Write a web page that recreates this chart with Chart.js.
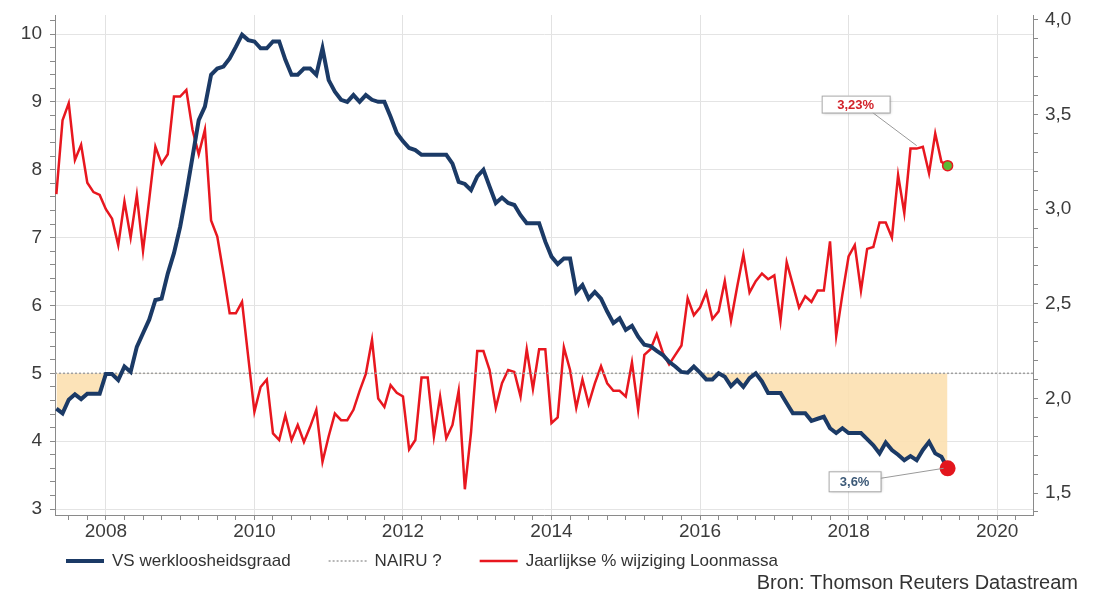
<!DOCTYPE html>
<html>
<head>
<meta charset="utf-8">
<script src="https://cdn.jsdelivr.net/npm/chart.js@4.4.1/dist/chart.umd.min.js"></script>
<style>
  html, body { margin: 0; padding: 0; background: #fff; }
  #wrap { width: 1093px; height: 593px; position: relative; }
</style>
</head>
<body>
<div id="wrap"><canvas id="chart"></canvas></div>
<script>
// monthly data, May 2007 - May 2019
const startYear = 2007;
const startMonth = 5;

// US unemployment rate (left axis, %)
const unemployment = [
  4.48, 4.41, 4.61, 4.69, 4.62, 4.70, 4.70, 4.70, 4.99, 4.99,
  4.90, 5.10, 5.02, 5.39, 5.59, 5.79, 6.08, 6.10, 6.47, 6.77,
  7.16, 7.65, 8.19, 8.73, 8.93, 9.40, 9.49, 9.52, 9.64, 9.81,
  9.99, 9.91, 9.89, 9.79, 9.79, 9.89, 9.89, 9.62, 9.40, 9.40,
  9.49, 9.49, 9.40, 9.79, 9.32, 9.15, 9.03, 9.00, 9.10, 9.00,
  9.10, 9.03, 9.00, 9.00, 8.78, 8.54, 8.42, 8.32, 8.29, 8.22,
  8.22, 8.22, 8.22, 8.22, 8.09, 7.82, 7.79, 7.70, 7.90, 8.00,
  7.75, 7.51, 7.59, 7.51, 7.48, 7.33, 7.21, 7.21, 7.21, 6.94,
  6.72, 6.61, 6.69, 6.69, 6.20, 6.30, 6.10, 6.20, 6.10, 5.91,
  5.74, 5.81, 5.64, 5.70, 5.54, 5.42, 5.40, 5.33, 5.27, 5.17,
  5.10, 5.02, 5.01, 5.10, 5.01, 4.91, 4.91, 5.00, 4.95, 4.81,
  4.90, 4.80, 4.93, 5.00, 4.88, 4.71, 4.71, 4.71, 4.56, 4.41,
  4.41, 4.41, 4.30, 4.33, 4.36, 4.19, 4.12, 4.19, 4.12, 4.12,
  4.12, 4.03, 3.94, 3.82, 3.98, 3.87, 3.80, 3.72, 3.78, 3.72,
  3.87, 3.99, 3.82, 3.77, 3.60
];

// yearly % change payroll (right axis)
const payrollGrowth = [
  3.08, 3.47, 3.56, 3.26, 3.34, 3.14, 3.09, 3.075, 3.00, 2.95,
  2.81, 3.04, 2.85, 3.075, 2.78, 3.05, 3.33, 3.24, 3.29, 3.595,
  3.595, 3.63, 3.42, 3.29, 3.42, 2.94, 2.855, 2.66, 2.45, 2.45,
  2.51, 2.22, 1.93, 2.06, 2.10, 1.815, 1.78, 1.91, 1.78, 1.86,
  1.77, 1.85, 1.94, 1.665, 1.80, 1.92, 1.885, 1.885, 1.94, 2.04,
  2.13, 2.31, 2.00, 1.955, 2.07, 2.03, 2.01, 1.73, 1.78, 2.11,
  2.11, 1.80, 2.01, 1.79, 1.86, 2.04, 1.52, 1.82, 2.25, 2.25,
  2.15, 1.95, 2.08, 2.15, 2.14, 2.01, 2.26, 2.05, 2.26, 2.26,
  1.87, 1.90, 2.27, 2.15, 1.95, 2.10, 1.97, 2.08, 2.17, 2.08,
  2.04, 2.04, 2.01, 2.19, 1.94, 2.23, 2.26, 2.34, 2.24, 2.18,
  2.23, 2.28, 2.53, 2.44, 2.48, 2.56, 2.42, 2.46, 2.62, 2.41,
  2.59, 2.76, 2.56, 2.62, 2.66, 2.63, 2.65, 2.41, 2.72, 2.60,
  2.48, 2.54, 2.51, 2.57, 2.57, 2.83, 2.33, 2.55, 2.75, 2.81,
  2.57, 2.79, 2.80, 2.93, 2.93, 2.85, 3.18, 2.98, 3.32, 3.32,
  3.33, 3.19, 3.40, 3.25, 3.23
];

const nairu = 5;
const seriesNames = ['VS werkloosheidsgraad', 'NAIRU ?', 'Jaarlijkse % wijziging Loonmassa'];
const yearTicks = [2008, 2010, 2012, 2014, 2016, 2018, 2020];
const leftTicks = [3, 4, 5, 6, 7, 8, 9, 10];
const rightTicks = [1.5, 2, 2.5, 3, 3.5, 4];
const sourceNote = 'Bron: Thomson Reuters Datastream';

// axis ranges
const xMin = 2007.315, xMax = 2020.483;
const leftMin = 2.912, leftMax = 10.28;
const rightMin = 1.384, rightMax = 4.026;

const axisFont = "'Liberation Sans', Arial, sans-serif";
const clear = 'rgba(0,0,0,0)';

function monthX(i) {
  return startYear + (startMonth - 1 + i) / 12;
}
function comma(v) {
  return String(v).replace('.', ',');
}

const unemploymentPts = unemployment.map((v, i) => ({ x: monthX(i), y: v }));
const payrollPts = payrollGrowth.map((v, i) => ({ x: monthX(i), y: v }));
const nairuPts = [{ x: xMin, y: nairu }, { x: xMax, y: nairu }];

// callouts, legend row and source note
const extras = {
  id: 'extras',
  afterDatasetsDraw(chart) {
    const ctx = chart.ctx;
    const blue = chart.getDatasetMeta(0).data;
    const red = chart.getDatasetMeta(2).data;
    const bEnd = blue[blue.length - 1];
    const rPeak = red[red.length - 6];

    drawBox(ctx, comma(payrollGrowth[payrollGrowth.length - 1]) + '%', '#d2232a',
      rPeak.x - 95, rPeak.y - 53, 68, 17, rPeak.x - 44, rPeak.y - 36, rPeak.x, rPeak.y - 3);
    drawBox(ctx, comma(unemployment[unemployment.length - 1]) + '%', '#3d5a78',
      bEnd.x - 119, bEnd.y + 3, 52, 20, bEnd.x - 67, bEnd.y + 10, bEnd.x - 4, bEnd.y);
  },
  afterDraw(chart) {
    const ctx = chart.ctx;
    ctx.save();
    // legend
    ctx.font = '17px ' + axisFont;
    ctx.textAlign = 'left';
    ctx.textBaseline = 'middle';
    let x = 66;
    const y = 561;
    chart.data.datasets.forEach(ds => {
      ctx.strokeStyle = ds.borderColor;
      ctx.lineWidth = ds.borderWidth;
      ctx.setLineDash(ds.borderDash || []);
      ctx.beginPath();
      ctx.moveTo(x, y);
      ctx.lineTo(x + 38, y);
      ctx.stroke();
      ctx.setLineDash([]);
      ctx.fillStyle = '#333';
      ctx.fillText(ds.label, x + 46, y);
      x += 46 + ctx.measureText(ds.label).width + 38;
    });
    // source
    ctx.font = '20px ' + axisFont;
    ctx.textAlign = 'right';
    ctx.fillText(sourceNote, 1078, 583);
    ctx.restore();
  }
};

function drawBox(ctx, text, color, bx, by, w, h, lx, ly, tx, ty) {
  ctx.save();
  ctx.strokeStyle = '#9a9a9a';
  ctx.lineWidth = 1;
  ctx.beginPath();
  ctx.moveTo(lx, ly);
  ctx.lineTo(tx, ty);
  ctx.stroke();
  ctx.shadowColor = 'rgba(0,0,0,0.25)';
  ctx.shadowBlur = 3;
  ctx.shadowOffsetX = 1;
  ctx.shadowOffsetY = 1;
  ctx.fillStyle = '#fff';
  ctx.fillRect(bx, by, w, h);
  ctx.shadowColor = clear;
  ctx.strokeStyle = '#a8a8a8';
  ctx.strokeRect(bx + 0.5, by + 0.5, w, h);
  ctx.font = 'bold 13px ' + axisFont;
  ctx.fillStyle = color;
  ctx.textAlign = 'center';
  ctx.textBaseline = 'middle';
  ctx.fillText(text, bx + w / 2, by + h / 2 + 1);
  ctx.restore();
}

function noVerticalPadding(s) {
  s.paddingTop = 0;
  s.paddingBottom = 0;
}

const ctx = document.getElementById('chart').getContext('2d');
new Chart(ctx, {
  type: 'line',
  data: {
    datasets: [
      {
        label: seriesNames[0],
        data: unemploymentPts,
        yAxisID: 'y',
        borderColor: '#1b3a66',
        backgroundColor: '#1b3a66',
        borderWidth: 4,
        tension: 0,
        pointRadius: c => c.dataIndex === unemployment.length - 1 ? 6 : 0,
        pointBackgroundColor: '#e3161d',
        pointBorderColor: '#e3161d',
        fill: { target: { value: nairu }, above: clear, below: 'rgba(252,224,176,0.9)' },
        order: 0
      },
      {
        label: seriesNames[1],
        data: nairuPts,
        yAxisID: 'y',
        borderColor: '#a0a0a0',
        backgroundColor: '#a0a0a0',
        borderWidth: 1.5,
        borderDash: [2, 2],
        pointRadius: 0,
        fill: false,
        order: 1
      },
      {
        label: seriesNames[2],
        data: payrollPts,
        yAxisID: 'y2',
        borderColor: '#e8171f',
        backgroundColor: '#e8171f',
        borderWidth: 2.5,
        tension: 0,
        pointRadius: c => c.dataIndex === payrollGrowth.length - 1 ? 5 : 0,
        pointBackgroundColor: '#5cba34',
        pointBorderColor: '#e8171f',
        pointBorderWidth: 1.5,
        fill: false,
        order: 2
      }
    ]
  },
  options: {
    responsive: true,
    maintainAspectRatio: false,
    animation: false,
    layout: { padding: { top: 15, bottom: 50, left: 0, right: 0 } },
    plugins: {
      filler: { drawTime: 'beforeDatasetsDraw' },
      tooltip: { enabled: false },
      legend: { display: false }
    },
    scales: {
      x: {
        type: 'linear',
        min: xMin,
        max: xMax,
        afterBuildTicks: s => {
          const t = [];
          for (let q = Math.ceil(xMin * 4); q <= Math.floor(xMax * 4); q++) t.push({ value: q / 4 });
          s.ticks = t;
        },
        ticks: {
          autoSkip: false,
          maxRotation: 0,
          padding: 0,
          color: '#3b3b3b',
          font: { family: axisFont, size: 19 },
          callback: v => yearTicks.includes(v) ? String(v) : ''
        },
        grid: {
          color: c => c.tick && yearTicks.includes(c.tick.value) ? '#e2e2e2' : clear,
          tickColor: '#8a8a8a',
          tickLength: 5
        },
        border: { display: true, color: '#8a8a8a' },
        afterFit: s => { s.height = 28; s.paddingLeft = 0; s.paddingRight = 0; }
      },
      y: {
        position: 'left',
        min: leftMin,
        max: leftMax,
        afterBuildTicks: s => {
          const t = [];
          for (let k = 15; k <= 51; k++) t.push({ value: k / 5 });
          s.ticks = t;
        },
        ticks: {
          autoSkip: false,
          padding: 8,
          color: '#3b3b3b',
          font: { family: axisFont, size: 19 },
          callback: v => leftTicks.includes(v) ? String(v) : ''
        },
        grid: {
          color: c => c.tick && leftTicks.includes(c.tick.value) ? '#e4e4e4' : clear,
          tickColor: '#8a8a8a',
          tickLength: 5
        },
        border: { display: true, color: '#8a8a8a' },
        afterFit: s => { s.width = 55; noVerticalPadding(s); }
      },
      y2: {
        position: 'right',
        min: rightMin,
        max: rightMax,
        afterBuildTicks: s => {
          const t = [];
          for (let k = 14; k <= 40; k++) t.push({ value: k / 10 });
          s.ticks = t;
        },
        ticks: {
          autoSkip: false,
          padding: 7,
          color: '#3b3b3b',
          font: { family: axisFont, size: 19 },
          callback: v => rightTicks.includes(v) ? v.toFixed(1).replace('.', ',') : ''
        },
        grid: {
          drawOnChartArea: false,
          tickColor: '#8a8a8a',
          tickLength: 5
        },
        border: { display: true, color: '#8a8a8a' },
        afterFit: s => { s.width = 60; noVerticalPadding(s); }
      }
    }
  },
  plugins: [extras]
});
</script>
</body>
</html>
